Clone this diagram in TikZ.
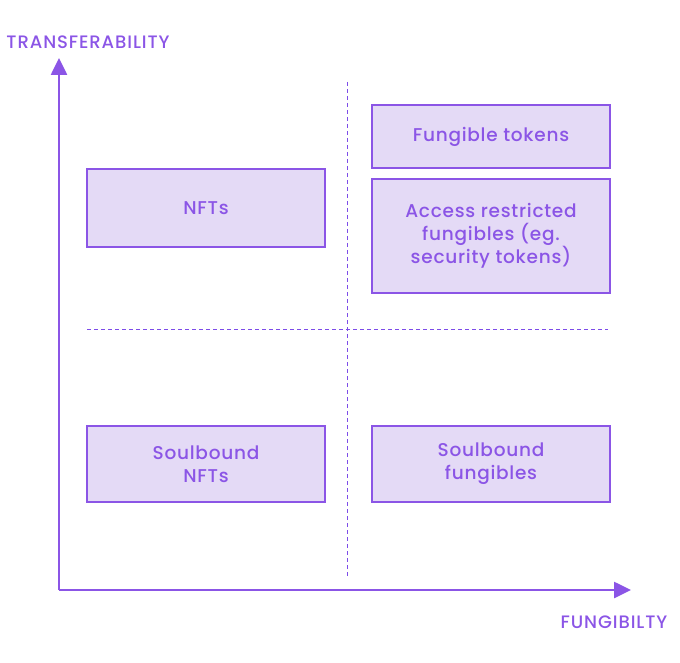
\documentclass[tikz,border=0pt]{standalone}
\usepackage{fontspec}
\setmainfont{Poppins}[UprightFont=* Medium]
\usetikzlibrary{arrows.meta}
\definecolor{violet1}{HTML}{8B55E6}
\definecolor{lilac}{HTML}{E4DAF6}
\tikzset{
  axis/.style={violet1,line width=2.6pt,-{Triangle[width=16pt,length=17pt]}},
  axlabel/.style={violet1,font=\fontsize{18}{21}\selectfont\addfontfeatures{LetterSpace=5}},
  cell/.style={draw=violet1,fill=lilac,line width=2.4pt,text=violet1,align=center,
    font=\fontsize{18.5}{23}\selectfont\addfontfeatures{LetterSpace=4},inner sep=0pt},
  split/.style={violet1!90!blue,line width=1pt,dash pattern=on 4pt off 3pt},
}
\begin{document}
\begin{tikzpicture}[x=1pt,y=-1pt]
  \useasboundingbox (0,0) rectangle (680,663);
  % quadrant split
  \coordinate (vtop) at (347,82);  \coordinate (vbot) at (347,577);
  \coordinate (hl) at (87,329);    \coordinate (hr) at (608,329);
  \draw[split] (vtop) -- (vbot);
  \draw[split] (hl) -- (hr);
  % axes
  \coordinate (o) at (59,590);
  \coordinate (ytip) at (59,58);
  \coordinate (xtip) at (631,590);
  \draw[axis] (o) -- (ytip);
  \draw[axis] (o) -- (xtip);
  \node[axlabel] (ylab) at (88,42) {TRANSFERABILITY};
  \node[axlabel] (xlab) at (614,622) {FUNGIBILTY};
  % boxes
  \node[cell,minimum width=238pt,minimum height=78pt] (nft) at (206,208) {NFTs};
  \node[cell,minimum width=238pt,minimum height=63pt] (fung) at (491,136.5) {Fungible tokens};
  \node[cell,minimum width=238pt,minimum height=114pt] (acc) at (491,236) {Access restricted\\fungibles (eg.\\security tokens)};
  \node[cell,minimum width=238pt,minimum height=76pt] (sbn) at (206,464) {Soulbound\\NFTs};
  \node[cell,minimum width=238pt,minimum height=76pt] (sbf) at (491,464) {Soulbound\\fungibles};
\end{tikzpicture}
\end{document}
